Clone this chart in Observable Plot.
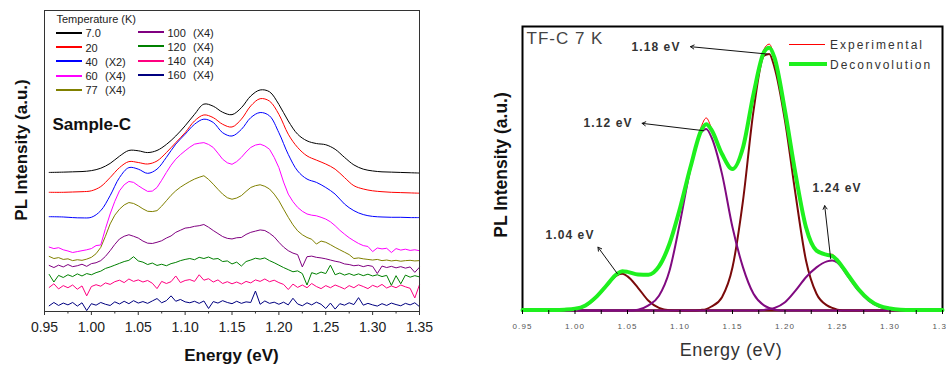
<!DOCTYPE html>
<html><head><meta charset="utf-8">
<script src="https://cdn.jsdelivr.net/npm/d3@7"></script>
<script src="https://cdn.jsdelivr.net/npm/@observablehq/plot@0.6"></script>
<style>
html,body{margin:0;padding:0;background:#fff;overflow:hidden}
body{font-family:"Liberation Sans",Arial,sans-serif}
#wrap{position:relative;width:946px;height:365px;overflow:hidden}
.pane{position:absolute;top:0}
.t{position:absolute;white-space:pre;line-height:1;color:#222}
.ln{position:absolute}
#right text{letter-spacing:1.1px}
</style></head><body>
<div id="wrap"><div id="left" class="pane" style="left:0"></div><div id="right" class="pane" style="left:470px"></div></div>
<script>
// ---------------- LEFT PANEL DATA (Sample-C, temperature series) ----------------
const smoothE = [0.955, ...d3.range(39).map(i => +(0.97 + i * 0.01).toFixed(2))];
const noisyE = d3.range(80).map(i => +(0.955 + i * 0.005).toFixed(3));

const pl7 = [46.2,46.3,46.4,46.5,46.8,47.6,49.2,51.6,53.5,53.4,52.8,53.5,55.5,58.3,61.7,65.5,68.9,68.2,66.2,65.4,67.7,71.6,73.6,73.0,68.8,63.3,58.9,56.7,55.8,55.4,53.9,51.2,48.7,47.3,46.7,46.4,46.3,46.2,46.1,46.0];
const pl20 = [39.6,39.6,39.7,39.8,40.1,41.5,44.5,47.8,49.8,49.5,49.0,50.0,52.8,56.1,59.4,63.3,65.3,64.4,62.2,61.3,63.9,68.3,70.7,69.9,65.5,58.9,54.5,51.7,50.3,49.0,47.3,44.5,41.8,40.7,40.1,39.8,39.6,39.5,39.4,39.3];
const pl40 = [31.5,31.4,31.2,31.1,31.3,33.5,38.5,44.5,47.8,47.3,45.9,47.3,51.2,55.6,58.9,62.2,63.9,62.8,59.4,58.3,60.5,64.4,66.1,65.0,59.4,52.2,46.7,44.0,42.9,41.2,39.0,35.7,33.5,32.2,31.6,31.4,31.3,31.3,31.2,31.2];
const pl60 = [21.4,20.9,21.2,20.5,20.1,19.6,19.9,20.2,20.5,20.9,
  21.9,22.1,27.5,32.4,36.6,40.1,42.1,43.2,42.9,41.8,
  40.8,39.9,40.0,41.2,43.6,46.2,48.6,50.6,52.1,53.4,
  54.6,55.6,55.9,56.1,55.5,54.5,52.6,50.6,49.4,48.9,
  49.8,51.2,53.0,54.5,55.3,55.6,55.0,53.9,51.2,47.8,
  43.0,39.0,36.5,34.6,33.3,32.4,32.0,31.8,31.3,30.7,
  29.8,28.5,27.0,25.7,24.5,23.5,22.6,21.9,21.6,19.9,
  21.1,20.8,21.0,19.6,20.9,20.4,20.7,20.3,20.5,20.2];
const pl77 = [18.3,17.6,17.9,17.3,17.5,16.9,17.2,17.0,17.4,18.0,
  19.2,21.3,25.0,29.1,32.0,34.0,35.4,36.2,35.9,35.1,
  34.1,33.3,33.2,33.5,35.0,36.8,38.6,40.1,41.3,42.3,
  43.2,44.0,44.6,45.1,43.9,42.3,40.6,39.0,37.8,37.3,
  37.7,38.5,39.9,41.2,41.8,42.1,41.6,40.7,39.0,36.8,
  34.0,31.3,28.8,26.8,25.5,24.6,24.0,22.4,23.4,23.0,
  22.2,21.3,20.5,19.7,18.9,17.6,17.8,17.5,17.3,17.1,
  17.3,16.9,17.1,16.8,17.0,16.7,16.9,17.0,16.8,16.9];
const pl100 = [15.3,14.6,15.4,14.8,15.6,14.9,15.2,15.7,15.0,15.9,
  16.2,16.9,18.3,20.2,22.3,24.1,25.0,25.5,25.0,24.4,
  23.4,22.7,22.6,23.0,23.5,24.4,25.1,26.3,27.0,27.7,
  27.9,28.3,28.5,28.9,28.0,26.9,25.9,24.9,24.3,24.1,
  24.5,24.6,25.6,26.3,26.7,27.1,26.9,26.0,24.8,23.0,
  21.4,20.2,19.4,18.9,14.8,18.2,18.4,18.0,17.8,17.5,
  17.1,16.7,16.4,15.8,15.6,15.2,15.4,14.9,15.3,15.0,
  12.6,15.1,14.6,15.0,14.5,14.9,14.4,14.8,13.0,14.7];
const pl120 = [12.3,9.8,12.0,11.3,12.2,11.6,12.5,11.8,12.6,12.2,
  12.9,13.4,14.3,14.8,15.4,16.0,16.6,17.0,18.2,16.8,
  16.4,15.6,16.1,15.3,15.7,15.2,15.9,16.3,16.9,17.3,
  17.6,17.2,18.0,17.6,18.1,17.4,17.6,16.6,16.8,15.8,
  16.4,15.1,16.6,17.1,17.7,17.4,17.8,16.9,16.2,15.4,
  14.6,13.9,13.2,13.5,12.6,8.8,12.9,12.4,13.1,12.6,
  15.4,12.2,12.8,12.1,12.6,12.0,12.5,11.9,12.4,11.8,
  12.2,11.6,12.0,8.7,11.9,9.2,12.1,11.4,11.9,11.5];
const pl140 = [8.0,9.2,7.5,8.6,7.9,8.8,7.4,8.5,5.2,8.3,
  8.9,8.4,9.5,9.0,9.9,10.4,9.6,10.8,10.0,10.5,
  9.8,10.3,9.4,7.6,10.0,9.3,9.9,11.8,9.6,10.3,
  10.6,10.0,12.2,10.4,10.9,9.8,10.5,9.3,9.9,9.2,
  9.8,9.1,10.0,9.5,10.5,10.0,10.8,9.9,10.4,9.6,
  9.0,7.3,9.1,8.0,8.8,7.9,9.3,8.3,7.6,8.6,
  7.9,8.8,8.2,7.5,8.6,7.9,8.9,8.3,7.6,8.7,
  8.1,9.0,7.8,8.5,7.9,8.8,8.2,7.7,4.5,8.9];
const pl160 = [1.9,3.0,2.0,2.8,2.2,3.0,1.8,2.9,0.3,2.6,
  2.1,3.0,2.4,2.0,3.2,2.5,3.4,2.6,3.6,2.8,
  3.3,2.7,3.5,4.3,2.9,3.6,5.2,3.4,4.0,3.2,
  2.9,3.4,2.7,3.5,1.0,3.3,2.8,3.6,3.0,2.6,
  3.4,2.7,3.2,3.0,6.8,2.4,3.5,2.7,3.1,2.4,
  3.1,2.2,4.4,2.5,1.9,2.9,2.2,3.1,2.4,1.0,
  2.8,0.8,2.6,2.1,2.9,2.3,4.6,2.1,2.7,2.2,
  1.8,2.6,2.0,2.8,2.3,1.9,2.7,2.2,2.9,1.6];

const legendTemps = ["7.0","20","40","60","77","100","120","140","160"];
const legendFactor = ["","","(X2)","(X4)","(X4)","(X4)","(X4)","(X4)","(X4)"];
const tempColors = ["#000000","#ff0000","#0000ff","#ff00ff","#808000","#800080","#008000","#ff0080","#000080"];
const leftMajorTicks = [0.95,1.00,1.05,1.10,1.15,1.20,1.25,1.30,1.35];
const leftMinorTicks = [0.975,1.025,1.075,1.125,1.175,1.225,1.275,1.325];

// ---------------- RIGHT PANEL DATA (TF-C 7 K deconvolution) ----------------
const rightE = [0.95,0.96,0.97,0.98,0.99,1.00,1.01,1.02,1.03,1.04,1.045,1.05,1.06,1.07,1.08,1.09,1.10,1.11,1.12,1.125,1.13,1.14,1.15,1.16,1.17,1.18,1.185,1.19,1.20,1.21,1.22,1.23,1.24,1.245,1.25,1.26,1.27,1.28,1.29,1.30,1.31,1.32,1.33,1.34,1.35];
const deconv = [0.2,0.2,0.2,0.2,0.3, 0.6,1.8,4.7,8.8,12.9, 13.8, 13.6,12.7,12.6,15.5,23.5,36.0,50.5,63.2, 65.6, 63.6,55.1,49.8,57.4,76.2,91.0, 92.5, 89.0,70.3,48.1,29.3,21.1,19.6, 19.2, 17.6,12.5,7.5,3.8,1.6,0.7,0.3,0.2,0.2,0.2,0.2];
const experimental = [0.2,0.2,0.2,0.2,0.3, 0.6,1.8,4.7,8.8,12.9, 13.9, 13.6,12.7,12.6,15.5,23.5,36.0,50.5,64.5, 67.8, 64.2,55.1,49.8,57.4,76.2,92.0, 93.8, 89.0,70.3,48.1,29.3,21.1,19.8, 19.8, 17.6,12.5,7.5,3.8,1.6,0.7,0.3,0.2,0.2,0.2,0.2];
const peak104 = [0,0,0,0,0.1, 0.4,1.6,4.5,8.6,12.4, 12.9, 12.0,8.0,3.4,0.9,0.1,0,0,0, 0, 0,0,0,0,0,0, 0, 0,0,0,0,0,0, 0, 0,0,0,0,0,0,0,0,0,0,0];
const peak112 = [0,0,0,0,0, 0,0,0,0,0, 0, 0,0.3,1.8,5.2,14.0,31.0,50.0,62.7, 63.9, 61.0,48.1,29.3,15.2,5.9,1.8, 0.9, 0.3,0,0,0,0,0, 0, 0,0,0,0,0,0,0,0,0,0,0];
const peak118 = [0,0,0,0,0, 0,0,0,0,0, 0, 0,0,0,0,0,0,0,0.2, 0.5, 1.4,4.7,15.2,38.7,70.3,89.7, 90.3, 85.6,66.8,41.0,17.6,5.9,1.8, 0.9, 0.3,0,0,0,0,0,0,0,0,0,0];
const peak124 = [0,0,0,0,0, 0,0,0,0,0, 0, 0,0,0,0,0,0,0,0, 0, 0,0,0,0,0,0.2, 0.5, 0.9,2.9,7.0,11.7,15.2,17.3, 17.6, 16.8,12.0,7.0,3.4,1.3,0.4,0.1,0,0,0,0];

const annLabel = ["1.04 eV","1.12 eV","1.18 eV","1.24 eV"];
const annTextE = [0.9952, 1.0315, 1.0771, 1.2495];
const annTextI = [26.4, 65.9, 92.9, 43.2];
const annFromE = [1.0403, 1.1227, 1.1831, 1.2435];
const annFromI = [13.0, 63.3, 90.3, 18.2];
const annToE = [1.0219, 1.0639, 1.1100, 1.2378];
const annToI = [22.3, 65.9, 92.9, 36.9];
const rightMajorTicks = [0.95,1.00,1.05,1.10,1.15,1.20,1.25,1.30,1.35];
const rightMinorTicks = [0.975,1.025,1.075,1.125,1.175,1.225,1.275,1.325];

// ---------------- BUILD LEFT ----------------
const toRows = (E, V) => E.map((e, i) => ({e, v: V[i]}));
const leftSeries = [
  {E: noisyE, V: pl160, c: tempColors[8], curve: "linear"},
  {E: noisyE, V: pl140, c: tempColors[7], curve: "linear"},
  {E: noisyE, V: pl120, c: tempColors[6], curve: "linear"},
  {E: noisyE, V: pl100, c: tempColors[5], curve: "linear"},
  {E: noisyE, V: pl77, c: tempColors[4], curve: "linear"},
  {E: noisyE, V: pl60, c: tempColors[3], curve: "linear"},
  {E: smoothE, V: pl40, c: tempColors[2], curve: "catmull-rom"},
  {E: smoothE, V: pl20, c: tempColors[1], curve: "catmull-rom"},
  {E: smoothE, V: pl7, c: tempColors[0], curve: "catmull-rom"}
];
const FONT = '"Liberation Sans", Arial, sans-serif';
const left = Plot.plot({
  width: 470, height: 365,
  marginLeft: 44, marginRight: 51, marginTop: 10, marginBottom: 54,
  style: {fontFamily: FONT, background: "transparent", overflow: "visible"},
  x: {domain: [0.95, 1.35]},
  y: {domain: [0, 100], axis: null},
  marks: [
    ...leftSeries.map(s => Plot.line(toRows(s.E, s.V), {x: "e", y: "v", stroke: s.c, strokeWidth: 1, curve: s.curve})),
    Plot.frame({stroke: "#333", strokeWidth: 1}),
    Plot.axisX(leftMajorTicks, {anchor: "bottom", tickSize: 4, tickPadding: 7, fontSize: 14, tickFormat: d => d.toFixed(2), label: null, stroke: "#333", fill: "#222"}),
    Plot.axisX(leftMinorTicks, {anchor: "bottom", tickSize: 2.5, label: null, stroke: "#333", fill: "none"})
  ]
});
document.getElementById("left").appendChild(left);

// ---------------- BUILD RIGHT ----------------
const right = Plot.plot({
  width: 476, height: 365,
  marginLeft: 52, marginRight: 4, marginTop: 26, marginBottom: 55,
  style: {fontFamily: FONT, background: "transparent", overflow: "visible"},
  x: {domain: [0.95, 1.35]},
  y: {domain: [0, 100], axis: null},
  marks: [
    Plot.frame({stroke: "#000", strokeWidth: 2}),
    Plot.line(toRows(rightE, peak104), {x: "e", y: "v", stroke: "#7a0a0a", strokeWidth: 2, curve: "monotone-x"}),
    Plot.line(toRows(rightE, peak118), {x: "e", y: "v", stroke: "#7a0a0a", strokeWidth: 2, curve: "monotone-x"}),
    Plot.line(toRows(rightE, peak112), {x: "e", y: "v", stroke: "#800a80", strokeWidth: 2, curve: "monotone-x"}),
    Plot.line(toRows(rightE, peak124), {x: "e", y: "v", stroke: "#800a80", strokeWidth: 2, curve: "monotone-x"}),
    Plot.line(toRows(rightE, experimental), {x: "e", y: "v", stroke: "#ff0000", strokeWidth: 1, curve: "monotone-x"}),
    Plot.line(toRows(rightE, deconv), {x: "e", y: "v", stroke: "#1ef01e", strokeWidth: 4, curve: "monotone-x"}),
    Plot.arrow(annLabel, {x1: (d, i) => annFromE[i], y1: (d, i) => annFromI[i], x2: (d, i) => annToE[i], y2: (d, i) => annToI[i], stroke: "#111", strokeWidth: 1, headLength: 6}),
    Plot.text(annLabel, {x: (d, i) => annTextE[i], y: (d, i) => annTextI[i], text: d => d, fontSize: 12, fontWeight: "bold", fill: "#333"}),
    Plot.axisX(rightMajorTicks, {anchor: "bottom", tickSize: 4, tickPadding: 9, fontSize: 8, tickFormat: d => d.toFixed(2), label: null, stroke: "#000", fill: "#555"}),
    Plot.axisX(rightMinorTicks, {anchor: "bottom", tickSize: 4, label: null, stroke: "#000", fill: "none"})
  ]
});
document.getElementById("right").appendChild(right);

// ---------------- TEXT & LEGENDS ----------------
const wrap = document.getElementById("wrap");
function txt(s, x, y, css, anchor) {
  const d = document.createElement("div");
  d.className = "t";
  d.textContent = s;
  d.style.left = x + "px";
  d.style.top = y + "px";
  d.style.transform = anchor === "middle" ? "translate(-50%,-50%)" : anchor === "rot" ? "translate(-50%,-50%) rotate(-90deg)" : "translate(0,-50%)";
  Object.assign(d.style, css || {});
  wrap.appendChild(d);
  return d;
}
function hline(x1, x2, y, color, w) {
  const d = document.createElement("div");
  d.className = "ln";
  d.style.left = x1 + "px";
  d.style.width = (x2 - x1) + "px";
  d.style.top = Math.round(y - w / 2) + "px";
  d.style.height = w + "px";
  d.style.backgroundColor = color;
  wrap.appendChild(d);
}
// left panel
txt("Temperature (K)", 56.5, 18.5, {fontSize: "11px"});
legendTemps.forEach((t, i) => {
  const col = i < 5 ? 0 : 1, row = i < 5 ? i : i - 5;
  const lx = col === 0 ? 56 : 138;
  const y = (col === 0 ? 32.7 : 32) + row * 14.3;
  hline(lx, lx + 26, y, tempColors[i], 2);
  txt(t, lx + 29.5, y + 0.5, {fontSize: "11px"});
  if (legendFactor[i]) txt(legendFactor[i], col === 0 ? 105 : 193, y + 0.5, {fontSize: "11px"});
});
txt("Sample-C", 52.5, 124, {fontSize: "17px", fontWeight: "bold", color: "#111"});
txt("Energy (eV)", 231.5, 355, {fontSize: "17px", fontWeight: "bold", color: "#111"}, "middle");
txt("PL Intensity (a.u.)", 21, 150, {fontSize: "17px", fontWeight: "bold", color: "#111"}, "rot");
// right panel
txt("TF-C 7 K", 526.5, 38, {fontSize: "17px", color: "#444", letterSpacing: "1px"});
hline(789, 825, 44.3, "#ff0000", 1);
hline(789, 827, 64.3, "#1ef01e", 4);
txt("Experimental", 830, 44.5, {fontSize: "12px", color: "#333", letterSpacing: "2px"});
txt("Deconvolution", 830, 64.5, {fontSize: "12px", color: "#333", letterSpacing: "2px"});
txt("Energy (eV)", 731, 350, {fontSize: "18px", color: "#333", letterSpacing: "0.6px"}, "middle");
txt("PL Intensity (a.u.)", 502, 165, {fontSize: "17.5px", fontWeight: "bold", color: "#111"}, "rot");
</script>
</body></html>
